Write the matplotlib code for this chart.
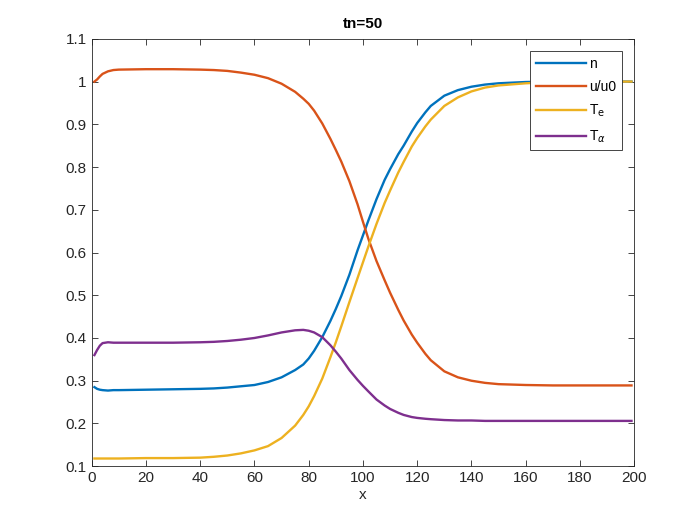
"""tn=50 profiles, MATLAB-style line plot."""
import matplotlib

matplotlib.use("Agg")
import matplotlib.pyplot as plt
from matplotlib.ticker import FuncFormatter

# values
x = [1, 2, 3, 4, 6, 8, 10, 20, 30, 40, 45, 50, 55, 60, 65, 70, 75, 78, 80,
     82, 85, 88, 90, 92, 95, 98, 100, 102, 105, 108, 110, 113, 115, 118, 120,
     123, 125, 130, 135, 140, 145, 150, 160, 170, 180, 190, 199]
n = [0.285, 0.281, 0.279, 0.278, 0.277, 0.278, 0.278, 0.279, 0.280, 0.281,
     0.282, 0.284, 0.287, 0.290, 0.297, 0.308, 0.325, 0.338, 0.352,
     0.370, 0.402, 0.440, 0.468, 0.498, 0.548, 0.605, 0.640, 0.675, 0.725,
     0.770, 0.795, 0.830, 0.850, 0.883, 0.903, 0.928, 0.943, 0.967, 0.980,
     0.988, 0.993, 0.996, 0.999, 1.000, 1.000, 1.000, 1.000]
u_u0 = [1.000, 1.005, 1.012, 1.018, 1.024, 1.027, 1.028, 1.029, 1.029, 1.028,
        1.027, 1.025, 1.021, 1.016, 1.008, 0.995, 0.976, 0.960, 0.948,
        0.932, 0.902, 0.866, 0.840, 0.813, 0.767, 0.713, 0.672, 0.632, 0.580,
        0.535, 0.506, 0.466, 0.441, 0.408, 0.389, 0.363, 0.348, 0.322, 0.308,
        0.300, 0.295, 0.292, 0.290, 0.289, 0.289, 0.289, 0.289]
T_e = [0.118, 0.118, 0.118, 0.118, 0.118, 0.118, 0.118, 0.119, 0.119, 0.120,
       0.122, 0.125, 0.130, 0.137, 0.147, 0.166, 0.195, 0.220, 0.240,
       0.264, 0.305, 0.355, 0.390, 0.427, 0.484, 0.540, 0.577, 0.614, 0.667,
       0.716, 0.745, 0.787, 0.812, 0.848, 0.868, 0.895, 0.911, 0.943, 0.963,
       0.977, 0.986, 0.991, 0.996, 0.999, 1.000, 1.000, 1.000]
T_alpha = [0.360, 0.372, 0.382, 0.388, 0.390, 0.389, 0.389, 0.389, 0.389,
           0.390, 0.391, 0.393, 0.396, 0.400, 0.406, 0.413, 0.418, 0.419,
           0.417, 0.413, 0.402, 0.383, 0.368, 0.352, 0.325, 0.302, 0.288,
           0.275, 0.256, 0.242, 0.234, 0.225, 0.220, 0.215, 0.213, 0.211,
           0.210, 0.208, 0.207, 0.207, 0.206, 0.206, 0.206, 0.206, 0.206,
           0.206, 0.206]

series = [
    (n, "n", "#0072BD"),
    (u_u0, "u/u0", "#D95319"),
    (T_e, r"T$_\mathrm{e}$", "#EDB120"),
    (T_alpha, r"T$_\alpha$", "#7E2F8E"),
]

plt.rcParams["font.family"] = ["Liberation Sans", "DejaVu Sans"]
axis_grey = "#262626"

fig = plt.figure(figsize=(7, 5.25), dpi=100)
ax = fig.add_axes([0.131, 0.112, 0.775, 0.814])
for values, label, color in series:
    ax.plot(x, values, color=color, lw=1.7, label=label)

ax.set_xlim(0, 200)
ax.set_ylim(0.1, 1.1)
ax.set_xticks(range(0, 201, 20))
ax.set_yticks([i / 10 for i in range(1, 12)])
ax.yaxis.set_major_formatter(FuncFormatter(lambda v, _: f"{v:g}"))
ax.tick_params(direction="in", top=True, right=True, length=4,
               labelsize=11, colors=axis_grey, width=0.6)
for side in ax.spines.values():
    side.set_color(axis_grey)
    side.set_linewidth(0.6)

ax.set_title("tn=50", fontsize=11, fontweight="bold", color="black", pad=8)
ax.set_xlabel("x", fontsize=11, color=axis_grey, labelpad=2)

leg = ax.legend(loc="upper right", fontsize=10, frameon=True, fancybox=False,
                handlelength=3.6, labelspacing=0.65, borderpad=0.4,
                handletextpad=0.25, borderaxespad=0.9)
leg.get_frame().set_edgecolor(axis_grey)
leg.get_frame().set_linewidth(0.6)
leg.get_frame().set_alpha(1)

fig.savefig("out.png", dpi=100, facecolor="white")
